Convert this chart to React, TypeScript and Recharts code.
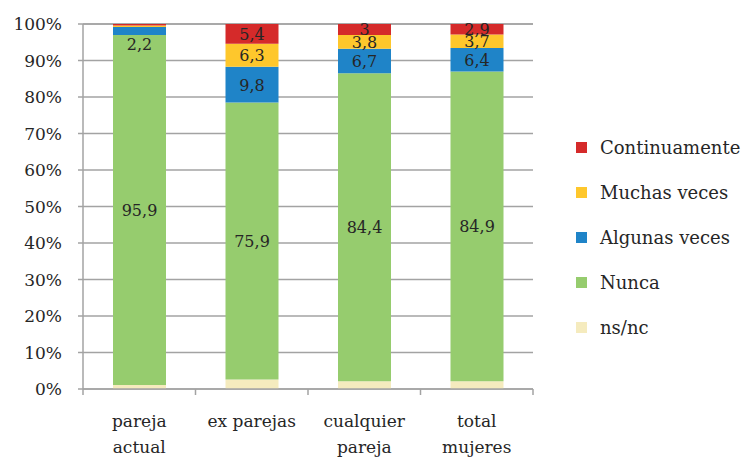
import React from 'react';
import { BarChart, Bar, XAxis, YAxis, CartesianGrid, LabelList } from 'recharts';

const categories = ['pareja\nactual', 'ex parejas', 'cualquier\npareja', 'total\nmujeres'];
const nsnc = [1.1, 2.6, 2.1, 2.1];
const nunca = [95.9, 75.9, 84.4, 84.9];
const algunas = [2.2, 9.8, 6.7, 6.4];
const muchas = [0.4, 6.3, 3.8, 3.7];
const continuamente = [0.4, 5.4, 3, 2.9];
const yTicks = [0, 10, 20, 30, 40, 50, 60, 70, 80, 90, 100];
const edgeTicks = [0, 1, 2, 3, 4];

const series = [
  { key: 'nsnc', name: 'ns/nc', color: '#F5EBBE', label: false },
  { key: 'nunca', name: 'Nunca', color: '#96CC6E', label: true },
  { key: 'algunas', name: 'Algunas veces', color: '#1F84C8', label: true },
  { key: 'muchas', name: 'Muchas veces', color: '#FEC72C', label: true },
  { key: 'continuamente', name: 'Continuamente', color: '#D52A2A', label: true },
];

const data = categories.map((c, i) => ({
  cat: c,
  idx: i + 0.5,
  nsnc: nsnc[i],
  nunca: nunca[i],
  algunas: algunas[i],
  muchas: muchas[i],
  continuamente: continuamente[i],
}));

const FONT = 'DejaVu Serif, serif';
const TEXT = '#262626';
const GRID = '#A3A3A3';

const fmt = (v: number) => String(v).replace('.', ',');

const renderLabel = (props: any) => {
  const { x, y, width, height, value } = props;
  if (value == null || value < 1) return null;
  const cx = x + width / 2;
  let cy = y + height / 2;
  if (height < 10) cy = y + height + 9;
  return (
    <text x={cx} y={cy + 6} textAnchor="middle" fontFamily={FONT} fontSize={16} fill={TEXT}>
      {fmt(value)}
    </text>
  );
};

const CatTick = (props: any) => {
  const { x, y, payload } = props;
  const lines = String(payload.value).split('\n');
  return (
    <g>
      {lines.map((l, i) => (
        <text key={i} x={x} y={y + 29 + i * 26} textAnchor="middle" fontFamily={FONT} fontSize={17} fill={TEXT}>
          {l}
        </text>
      ))}
    </g>
  );
};

const legendItems = [...series].reverse();

export default function App() {
  return (
    <div style={{ position: 'absolute', left: 0, top: 0, width: 746, height: 458, background: '#fff' }}>
      <BarChart
        width={746}
        height={458}
        data={data}
        margin={{ top: 24, right: 213, bottom: 9, left: 13 }}
        barSize={53}
      >
        <CartesianGrid xAxisId="z" horizontal vertical={false} stroke={GRID} strokeWidth={1.5} />
        <XAxis
          xAxisId="a"
          type="number"
          dataKey="idx"
          domain={[0, 4]}
          ticks={edgeTicks}
          height={1}
          axisLine={{ stroke: GRID, strokeWidth: 1.5 }}
          tickLine={{ stroke: GRID, strokeWidth: 1.5 }}
          tickSize={6}
          tick={() => <g />}
        />
        <XAxis
          xAxisId="z"
          dataKey="cat"
          height={59}
          axisLine={false}
          tickLine={false}
          tick={<CatTick />}
          interval={0}
        />
        <YAxis
          domain={[0, 100]}
          ticks={yTicks}
          width={70}
          tickFormatter={(v: number) => `${v}%`}
          axisLine={{ stroke: GRID, strokeWidth: 1.5 }}
          tickLine={{ stroke: GRID, strokeWidth: 1.5 }}
          tickSize={5}
          tick={{ fontFamily: FONT, fontSize: 17, fill: TEXT, dx: -14 }}
        />
        {series.map((s) => (
          <Bar key={s.key} xAxisId="z" dataKey={s.key} name={s.name} stackId="a" fill={s.color} isAnimationActive={false}>
            {s.label ? <LabelList dataKey={s.key} content={renderLabel} /> : null}
          </Bar>
        ))}
      </BarChart>
      <div style={{ position: 'absolute', left: 576, top: 125, fontFamily: FONT, fontSize: 18, color: TEXT }}>
        {legendItems.map((s) => (
          <div key={s.key} style={{ display: 'flex', alignItems: 'center', height: 45 }}>
            <span style={{ display: 'inline-block', width: 11, height: 11, background: s.color, marginRight: 13 }} />
            <span>{s.name}</span>
          </div>
        ))}
      </div>
    </div>
  );
}
